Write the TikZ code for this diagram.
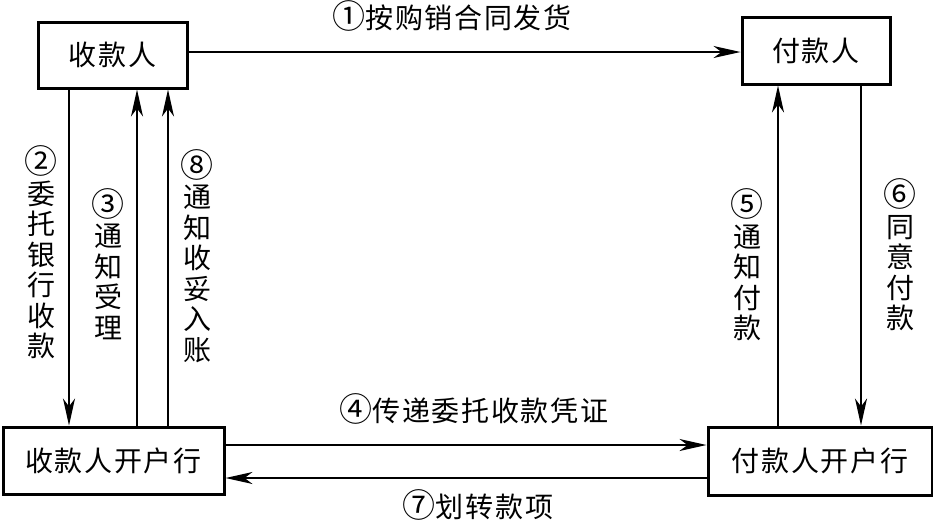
\documentclass[tikz,border=0pt]{standalone}
\usepackage{fontspec}
\newfontfamily\cjk[LetterSpace=6]{Noto Sans CJK SC}
\newcommand\cdg[1]{{\fontsize{33}{30}\selectfont #1}}
\usetikzlibrary{arrows.meta}
\begin{document}
\begin{tikzpicture}[x=1pt,y=-1pt,
  box/.style={draw,line width=3pt,inner sep=0pt,font=\cjk\fontsize{28}{30}\selectfont},
  lab/.style={inner sep=0pt,font=\cjk\fontsize{28}{30}\selectfont},
  vlab/.style={inner sep=0pt,align=center,font=\cjk\fontsize{28}{30.5}\selectfont},
  arr/.style={line width=1.5pt,-{Stealth[length=27pt,width=12pt,inset=8pt]}},
  ln/.style={line width=1.5pt}]
\useasboundingbox (0,0) rectangle (933,520);
\node[box,minimum width=149pt,minimum height=66pt] (A) at (112.5,55) {收款人};
\node[box,minimum width=148pt,minimum height=67pt] (B) at (816,50.5) {付款人};
\node[box,minimum width=221pt,minimum height=67pt] (C) at (113.5,460.5) {收款人开户行};
\node[box,minimum width=224pt,minimum height=68pt] (D) at (820,461) {付款人开户行};
% connectors
\draw[arr] (A.east |- 0,52) -- (B.west |- 0,52);
\draw[arr] (A.south -| 69,0) -- (C.north -| 69,0);
\draw[arr] (C.north -| 137,0) -- (A.south -| 137,0);
\draw[arr] (C.north -| 168,0) -- (A.south -| 168,0);
\draw[arr] (D.north -| 778,0) -- (B.south -| 778,0);
\draw[arr] (B.south -| 861,0) -- (D.north -| 861,0);
\draw[arr] (C.east |- 0,445) -- (D.west |- 0,445);
\draw[arr] (D.west |- 0,478) -- (C.east |- 0,478);
% labels
\node[lab] (l1) at (452,16) {\cdg{①}按购销合同发货};
\node[lab] (l4) at (474,409) {\cdg{④}传递委托收款凭证};
\node[lab] (l7) at (478,505) {\cdg{⑦}划转款项};
\node[vlab] (l2) at (41,252.5) {\cdg{②}\\委\\托\\银\\行\\收\\款};
\node[vlab] (l3) at (108,264) {\cdg{③}\\通\\知\\受\\理};
\node[vlab] (l8) at (197,256) {\cdg{⑧}\\通\\知\\收\\妥\\入\\账};
\node[vlab] (l5) at (747,265) {\cdg{⑤}\\通\\知\\付\\款};
\node[vlab] (l6) at (900,255) {\cdg{⑥}\\同\\意\\付\\款};
\end{tikzpicture}
\end{document}
